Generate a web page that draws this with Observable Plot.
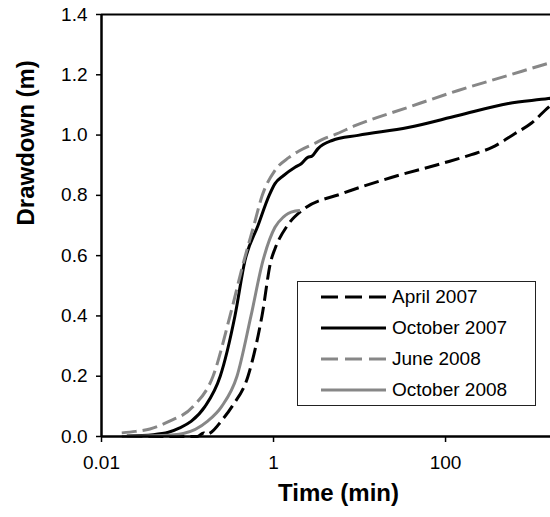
<!DOCTYPE html>
<html><head><meta charset="utf-8">
<script src="https://cdn.jsdelivr.net/npm/d3@7"></script>
<script src="https://cdn.jsdelivr.net/npm/@observablehq/plot@0.6"></script>
<style>
html,body{margin:0;padding:0;background:#fff;}
#wrap{position:relative;width:550px;height:517px;font-family:"Liberation Sans",Arial,sans-serif;}
#legend{position:absolute;left:297px;top:281px;width:239px;height:125px;box-sizing:border-box;border:1px solid #222;background:#fff;}
</style></head><body><div id="wrap"></div>
<script>
// ---- data ----
const seriesNames = ["April 2007", "October 2007", "June 2008", "October 2008"];

const april2007Time = [0.02, 0.13, 0.145, 0.155, 0.165, 0.18, 0.2, 0.245, 0.33, 0.505, 0.734, 0.935, 1.04, 1.45, 2.14, 6.3, 23.9, 91, 200, 347, 642, 1000, 1567, 1660];
const april2007Drawdown = [0.0, 0.0, 0.008, 0.012, 0.006, 0.01, 0.02, 0.05, 0.10, 0.20, 0.40, 0.584, 0.623, 0.70, 0.75, 0.806, 0.86, 0.906, 0.935, 0.959, 1.005, 1.04, 1.092, 1.098];

const october2007Time = [0.0197, 0.04, 0.06, 0.08, 0.11, 0.16, 0.24, 0.356, 0.466, 0.66, 0.89, 1.04, 1.3, 1.78, 2.1, 2.5, 2.8, 3.29, 4.8, 9.6, 36.6, 140, 537, 1567, 1660];
const october2007Drawdown = [0.002, 0.006, 0.014, 0.028, 0.05, 0.10, 0.20, 0.40, 0.584, 0.70, 0.80, 0.839, 0.865, 0.893, 0.905, 0.926, 0.93, 0.955, 0.982, 0.999, 1.025, 1.065, 1.105, 1.121, 1.122];

const june2008Time = [0.0172, 0.025, 0.0366, 0.061, 0.117, 0.198, 0.312, 0.454, 0.59, 0.74, 1.04, 1.5, 2.0, 3.0, 4.0, 5.0, 9.0, 36.6, 140, 537, 1567, 1660];
const june2008Drawdown = [0.012, 0.017, 0.025, 0.05, 0.10, 0.20, 0.40, 0.584, 0.70, 0.80, 0.883, 0.925, 0.948, 0.972, 0.99, 1.0, 1.032, 1.092, 1.148, 1.198, 1.238, 1.24];

const october2008Time = [0.0172, 0.05, 0.0893, 0.17, 0.25, 0.376, 0.547, 0.755, 1.04, 1.3, 1.48, 1.8, 2.03];
const october2008Drawdown = [0.0, 0.003, 0.01, 0.05, 0.10, 0.20, 0.40, 0.584, 0.694, 0.728, 0.74, 0.748, 0.75];

const xTicks = [0.01, 1, 100];
const xTickLabels = ["0.01", "1", "100"];
const yTicks = [0, 0.2, 0.4, 0.6, 0.8, 1.0, 1.2, 1.4];
const yTickLabels = ["0.0", "0.2", "0.4", "0.6", "0.8", "1.0", "1.2", "1.4"];
const xDomain = [0.01, 1660];
const yDomain = [0, 1.4];
const xTitle = "Time (min)";
const yTitle = "Drawdown (m)";

// ---- styles ----
const styles = [
  {stroke: "#000", dash: "15,6"},
  {stroke: "#000", dash: null},
  {stroke: "#878787", dash: "15,6"},
  {stroke: "#878787", dash: null}
];

const timeArrays = [april2007Time, october2007Time, june2008Time, october2008Time];
const drawArrays = [april2007Drawdown, october2007Drawdown, june2008Drawdown, october2008Drawdown];
const tables = timeArrays.map((ts, k) => ts.map((t, i) => ({t, s: drawArrays[k][i]})));

const lineMarks = tables.map((tab, k) => Plot.line(tab, {
  x: "t", y: "s", curve: "monotone-x",
  stroke: styles[k].stroke, strokeWidth: 3,
  strokeDasharray: styles[k].dash || undefined,
  strokeLinecap: "butt"
}));

const plot = Plot.plot({
  width: 550, height: 517,
  marginLeft: 101, marginRight: 0, marginTop: 14, marginBottom: 81,
  style: {fontFamily: '"Liberation Sans", Arial, sans-serif', fontSize: "19px", color: "#000", background: "#fff"},
  x: {type: "log", domain: xDomain},
  y: {domain: yDomain},
  marks: [
    ...lineMarks,
    Plot.axisX({ticks: xTicks, tickFormat: d => xTickLabels[xTicks.indexOf(d)], tickSize: 6, tickPadding: 13, label: null, strokeWidth: 1.5}),
    Plot.axisY({ticks: yTicks, tickFormat: d => yTickLabels[yTicks.indexOf(d)], tickSize: 5, tickPadding: 9, label: null, strokeWidth: 1.5}),
    Plot.ruleX([xDomain[0]], {stroke: "#000", strokeWidth: 2.5}),
    Plot.ruleY([yDomain[0]], {stroke: "#000", strokeWidth: 2.5}),
    Plot.ruleY([yDomain[1]], {stroke: "#000", strokeWidth: 2.2}),
    Plot.text([xTitle], {text: d => d, frameAnchor: "bottom", dx: 12.5, dy: 64, fontWeight: "bold", fontSize: 24, fill: "#000"}),
    Plot.text([yTitle], {text: d => d, frameAnchor: "left", dx: -75.5, rotate: -90, fontWeight: "bold", fontSize: 24, fill: "#000"})
  ]
});

const wrap = document.getElementById("wrap");
wrap.appendChild(plot);

// ---- legend ----
const legend = document.createElement("div");
legend.id = "legend";
wrap.appendChild(legend);
const lsvg = d3.select(legend).append("svg").attr("width", 237).attr("height", 123)
  .style("display", "block");
seriesNames.forEach((name, k) => {
  const cy = 15 + k * 31;
  lsvg.append("line").attr("x1", 23).attr("x2", 88).attr("y1", cy).attr("y2", cy)
    .attr("stroke", styles[k].stroke).attr("stroke-width", 3.2)
    .attr("stroke-dasharray", styles[k].dash ? "17,7" : null);
  lsvg.append("text").attr("x", 94).attr("y", cy).attr("dy", "0.33em")
    .attr("font-family", '"Liberation Sans", Arial, sans-serif').attr("font-size", 19)
    .attr("fill", "#000").text(name);
});
</script></body></html>
